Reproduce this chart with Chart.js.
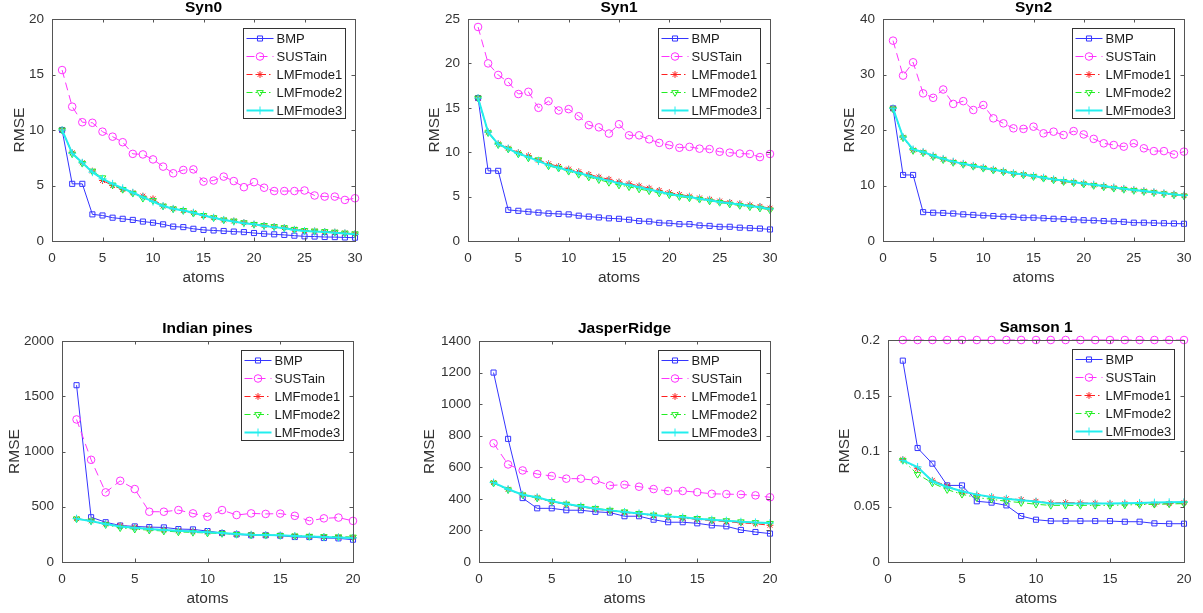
<!DOCTYPE html>
<html>
<head>
<meta charset="utf-8">
<script src="https://cdn.jsdelivr.net/npm/chart.js@4/dist/chart.umd.min.js"></script>
<style>
  html, body { margin: 0; padding: 0; background: #fff; }
  body { position: relative; width: 1203px; height: 613px; overflow: hidden; }
  canvas { position: absolute; }
</style>
</head>
<body>
<canvas id="c0"></canvas>
<canvas id="c1"></canvas>
<canvas id="c2"></canvas>
<canvas id="c3"></canvas>
<canvas id="c4"></canvas>
<canvas id="c5"></canvas>
<script>
// number of atoms (x values)
const atoms30 = [1, 2, 3, 4, 5, 6, 7, 8, 9, 10, 11, 12, 13, 14, 15, 16, 17, 18, 19, 20, 21, 22, 23, 24, 25, 26, 27, 28, 29, 30];
const atoms20 = [1, 2, 3, 4, 5, 6, 7, 8, 9, 10, 11, 12, 13, 14, 15, 16, 17, 18, 19, 20];
const seriesNames = ["BMP", "SUSTain", "LMFmode1", "LMFmode2", "LMFmode3"];

// Syn0
const syn0BMP = [10.0, 5.15, 5.15, 2.4, 2.3, 2.1, 2.0, 1.9, 1.75, 1.65, 1.5, 1.3, 1.25, 1.1, 1.0, 0.95, 0.9, 0.85, 0.8, 0.72, 0.65, 0.6, 0.55, 0.48, 0.42, 0.4, 0.36, 0.35, 0.32, 0.3];
const syn0SUSTain = [15.4, 12.1, 10.7, 10.65, 9.85, 9.4, 8.9, 7.85, 7.8, 7.35, 6.7, 6.1, 6.4, 6.45, 5.35, 5.45, 5.8, 5.4, 4.85, 5.3, 4.8, 4.5, 4.5, 4.5, 4.55, 4.1, 4.0, 4.0, 3.7, 3.85];
const syn0LMF1 = [10.0, 7.95, 7.05, 6.3, 5.45, 5.0, 4.65, 4.35, 4.05, 3.8, 3.15, 2.9, 2.75, 2.55, 2.3, 2.1, 1.9, 1.8, 1.65, 1.5, 1.4, 1.3, 1.2, 1.05, 0.95, 0.9, 0.85, 0.8, 0.72, 0.65];
const syn0LMF2 = [10.0, 7.85, 7.0, 6.3, 5.7, 5.05, 4.65, 4.3, 3.85, 3.65, 3.15, 2.9, 2.75, 2.5, 2.3, 2.1, 1.9, 1.8, 1.65, 1.5, 1.4, 1.3, 1.2, 1.05, 0.95, 0.9, 0.85, 0.8, 0.72, 0.65];
const syn0LMF3 = [10.0, 7.9, 7.05, 6.2, 5.6, 5.15, 4.75, 4.35, 3.95, 3.55, 3.15, 2.9, 2.75, 2.55, 2.3, 2.1, 1.9, 1.75, 1.6, 1.5, 1.35, 1.25, 1.15, 1.0, 0.9, 0.85, 0.8, 0.75, 0.68, 0.6];

// Syn1
const syn1BMP = [16.1, 7.9, 7.9, 3.5, 3.4, 3.3, 3.2, 3.1, 3.05, 3.0, 2.85, 2.75, 2.65, 2.55, 2.5, 2.4, 2.25, 2.2, 2.05, 2.0, 1.9, 1.9, 1.75, 1.7, 1.6, 1.6, 1.5, 1.45, 1.4, 1.3];
const syn1SUSTain = [24.1, 20.0, 18.7, 17.9, 16.55, 16.8, 15.0, 15.75, 14.7, 14.85, 14.05, 13.05, 12.8, 12.1, 13.15, 11.9, 11.9, 11.45, 11.05, 10.8, 10.5, 10.6, 10.4, 10.35, 10.05, 9.95, 9.85, 9.8, 9.45, 9.8];
const syn1LMF1 = [16.1, 12.25, 10.95, 10.45, 9.95, 9.6, 9.1, 8.7, 8.4, 8.1, 7.8, 7.5, 7.2, 6.95, 6.65, 6.45, 6.2, 5.95, 5.7, 5.45, 5.25, 5.05, 4.85, 4.7, 4.5, 4.35, 4.2, 4.05, 3.9, 3.7];
const syn1LMF2 = [16.1, 12.2, 10.85, 10.35, 9.8, 9.35, 9.15, 8.45, 8.2, 7.85, 7.5, 7.2, 6.9, 6.6, 6.3, 6.1, 5.85, 5.65, 5.4, 5.2, 5.0, 4.85, 4.7, 4.5, 4.35, 4.15, 4.0, 3.85, 3.7, 3.5];
const syn1LMF3 = [16.1, 12.25, 10.9, 10.4, 9.85, 9.45, 9.0, 8.55, 8.25, 7.95, 7.65, 7.35, 7.05, 6.8, 6.5, 6.3, 6.05, 5.8, 5.55, 5.3, 5.1, 4.95, 4.75, 4.6, 4.4, 4.25, 4.1, 3.95, 3.8, 3.6];

// Syn2
const syn2BMP = [23.9, 11.9, 11.9, 5.2, 5.1, 5.05, 4.95, 4.8, 4.7, 4.6, 4.5, 4.4, 4.35, 4.2, 4.2, 4.1, 4.0, 3.95, 3.85, 3.75, 3.7, 3.6, 3.55, 3.45, 3.3, 3.3, 3.25, 3.2, 3.15, 3.1];
const syn2SUSTain = [36.1, 29.8, 32.2, 26.6, 25.8, 27.3, 24.7, 25.2, 23.6, 24.5, 22.1, 21.2, 20.3, 20.2, 20.6, 19.4, 19.7, 19.1, 19.8, 19.2, 18.4, 17.6, 17.3, 17.0, 17.6, 16.7, 16.2, 16.2, 15.6, 16.1];
const syn2LMF1 = [23.9, 18.7, 16.4, 16.0, 15.3, 14.75, 14.25, 13.9, 13.55, 13.2, 12.85, 12.55, 12.2, 12.0, 11.7, 11.4, 11.1, 10.75, 10.6, 10.35, 10.1, 9.85, 9.6, 9.4, 9.2, 9.0, 8.8, 8.6, 8.4, 8.2];
const syn2LMF2 = [23.8, 18.6, 16.3, 15.9, 15.2, 14.65, 14.15, 13.8, 13.45, 13.1, 12.75, 12.45, 12.1, 11.9, 11.6, 11.3, 11.0, 10.7, 10.5, 10.25, 10.0, 9.75, 9.5, 9.3, 9.1, 8.9, 8.7, 8.5, 8.3, 8.1];
const syn2LMF3 = [23.9, 18.7, 16.5, 16.05, 15.35, 14.8, 14.3, 13.9, 13.55, 13.2, 12.85, 12.55, 12.2, 12.0, 11.7, 11.4, 11.1, 10.9, 10.6, 10.35, 10.15, 9.9, 9.65, 9.4, 9.2, 9.0, 8.8, 8.6, 8.4, 8.2];

// Indian pines
const indianBMP = [1600, 405, 360, 330, 322, 316, 313, 298, 295, 280, 262, 250, 242, 242, 238, 226, 226, 217, 214, 202];
const indianSUSTain = [1290, 925, 630, 735, 660, 455, 455, 470, 440, 410, 470, 425, 440, 435, 438, 418, 372, 395, 402, 372];
const indianLMF1 = [392, 375, 345, 330, 315, 300, 290, 282, 278, 272, 262, 253, 247, 244, 240, 235, 232, 229, 226, 222];
const indianLMF2 = [390, 372, 338, 310, 297, 288, 280, 272, 268, 262, 258, 250, 245, 242, 240, 236, 233, 230, 228, 226];
const indianLMF3 = [392, 370, 343, 322, 310, 298, 290, 282, 277, 270, 262, 253, 247, 244, 241, 235, 230, 226, 222, 218];

// JasperRidge
const jasperBMP = [1200, 780, 405, 340, 340, 328, 328, 318, 313, 290, 290, 268, 252, 252, 245, 232, 226, 203, 190, 180];
const jasperSUSTain = [752, 618, 580, 557, 545, 528, 528, 517, 485, 490, 477, 462, 450, 450, 442, 432, 430, 428, 422, 410];
const jasperLMF1 = [503, 461, 425, 408, 382, 365, 350, 335, 324, 314, 304, 294, 285, 278, 270, 262, 256, 248, 242, 233];
const jasperLMF2 = [500, 458, 425, 405, 383, 367, 352, 340, 328, 318, 308, 298, 290, 282, 276, 268, 262, 255, 250, 245];
const jasperLMF3 = [503, 461, 426, 410, 385, 367, 353, 338, 327, 317, 308, 298, 289, 283, 274, 268, 262, 255, 251, 247];

// Samson 1
const samsonBMP = [0.1814, 0.1027, 0.0886, 0.069, 0.069, 0.0547, 0.0535, 0.051, 0.0414, 0.0381, 0.0369, 0.0369, 0.0369, 0.0369, 0.0369, 0.0363, 0.0363, 0.0348, 0.0345, 0.0345];
const samsonSUSTain = [0.2, 0.2, 0.2, 0.2, 0.2, 0.2, 0.2, 0.2, 0.2, 0.2, 0.2, 0.2, 0.2, 0.2, 0.2, 0.2, 0.2, 0.2, 0.2, 0.2];
const samsonLMF1 = [0.0922, 0.0841, 0.0736, 0.0685, 0.0631, 0.060, 0.0586, 0.057, 0.0562, 0.0547, 0.0532, 0.0535, 0.0532, 0.0529, 0.0526, 0.0526, 0.0526, 0.0523, 0.0526, 0.0535];
const samsonLMF2 = [0.0916, 0.079, 0.0712, 0.0652, 0.061, 0.058, 0.0565, 0.0547, 0.0535, 0.052, 0.051, 0.051, 0.051, 0.051, 0.051, 0.0514, 0.0517, 0.052, 0.0523, 0.0526];
const samsonLMF3 = [0.0916, 0.0856, 0.0727, 0.0676, 0.0637, 0.0607, 0.0586, 0.057, 0.0556, 0.0544, 0.0526, 0.0526, 0.0526, 0.0526, 0.0526, 0.0529, 0.0532, 0.0535, 0.0538, 0.054];

const panels = [
  { title: "Syn0", x: atoms30, xMax: 30, yMax: 20, yStep: 5, series: [syn0BMP, syn0SUSTain, syn0LMF1, syn0LMF2, syn0LMF3] },
  { title: "Syn1", x: atoms30, xMax: 30, yMax: 25, yStep: 5, series: [syn1BMP, syn1SUSTain, syn1LMF1, syn1LMF2, syn1LMF3] },
  { title: "Syn2", x: atoms30, xMax: 30, yMax: 40, yStep: 10, series: [syn2BMP, syn2SUSTain, syn2LMF1, syn2LMF2, syn2LMF3] },
  { title: "Indian pines", x: atoms20, xMax: 20, yMax: 2000, yStep: 500, series: [indianBMP, indianSUSTain, indianLMF1, indianLMF2, indianLMF3] },
  { title: "JasperRidge", x: atoms20, xMax: 20, yMax: 1400, yStep: 200, series: [jasperBMP, jasperSUSTain, jasperLMF1, jasperLMF2, jasperLMF3] },
  { title: "Samson 1", x: atoms20, xMax: 20, yMax: 0.2, yStep: 0.05, series: [samsonBMP, samsonSUSTain, samsonLMF1, samsonLMF2, samsonLMF3] },
];

// plot box on the page: left, top, width, height, gap to RMSE label, gap to title
const boxes = [
  [52, 19, 303, 222, 34, 11],
  [468, 19, 302, 222, 35, 11],
  [883, 19, 301, 222, 35, 11],
  [62, 341, 291, 221, 49, 12.5],
  [479, 341, 291, 221, 51, 12.5],
  [888, 340, 296, 222, 45, 12.5],
];

const styles = [
  { color: "#3535ff", dash: [], point: "rect", radius: 3.6, width: 1, rot: 0 },
  { color: "#ff33ff", dash: [8, 5], point: "circle", radius: 3.8, width: 1, rot: 0 },
  { color: "#ff2020", dash: [6, 3, 1.5, 3], point: "star", radius: 3.4, width: 1, rot: 0 },
  { color: "#22ee22", dash: [6, 3, 1.5, 3], point: "triangle", radius: 3.8, width: 1, rot: 180 },
  { color: "#22eeee", dash: [], point: "cross", radius: 4, width: 2, rot: 0 },
];

const INK = "#333333";
const AXIS = "#555555";
const FONT = "'Liberation Sans', Arial, Helvetica, sans-serif";
Chart.defaults.font.family = FONT;

const fmt = (v) => String(Math.round(v * 1e6) / 1e6);

// MATLAB style box with inward ticks on all four sides
const matlabAxes = {
  id: "matlabAxes",
  afterDatasetsDraw(chart) {
    const { ctx, chartArea: a, scales } = chart;
    const tl = 3.5;
    ctx.save();
    ctx.strokeStyle = AXIS;
    ctx.lineWidth = 1;
    ctx.strokeRect(Math.round(a.left) + 0.5, Math.round(a.top) + 0.5, Math.round(a.right - a.left), Math.round(a.bottom - a.top));
    ctx.beginPath();
    for (const t of scales.x.ticks) {
      const px = Math.round(scales.x.getPixelForValue(t.value)) + 0.5;
      ctx.moveTo(px, a.bottom); ctx.lineTo(px, a.bottom - tl);
      ctx.moveTo(px, a.top); ctx.lineTo(px, a.top + tl);
    }
    for (const t of scales.y.ticks) {
      const py = Math.round(scales.y.getPixelForValue(t.value)) + 0.5;
      ctx.moveTo(a.left, py); ctx.lineTo(a.left + tl, py);
      ctx.moveTo(a.right, py); ctx.lineTo(a.right - tl, py);
    }
    ctx.stroke();
    ctx.restore();
  },
};

// legend box inside the plot, top right, line sample with marker
const matlabLegend = {
  id: "matlabLegend",
  afterDraw(chart) {
    const { ctx, chartArea: a } = chart;
    const w = 102, rowH = 18, h = 90;
    const x0 = Math.round(a.right - 10 - w) + 0.5, y0 = Math.round(a.top + 9) + 0.5;
    ctx.save();
    ctx.fillStyle = "#fff";
    ctx.fillRect(x0, y0, w, h);
    ctx.strokeStyle = INK;
    ctx.lineWidth = 1;
    ctx.strokeRect(x0, y0, w, h);
    chart.data.datasets.forEach((ds, i) => {
      const cy = y0 + 10 + i * rowH;
      ctx.save();
      ctx.strokeStyle = ds.borderColor;
      ctx.lineWidth = ds.borderWidth;
      ctx.setLineDash(ds.borderDash || []);
      ctx.beginPath();
      ctx.moveTo(x0 + 3, cy);
      ctx.lineTo(x0 + 30, cy);
      ctx.stroke();
      ctx.setLineDash([]);
      ctx.lineWidth = 1;
      ctx.fillStyle = "rgba(0,0,0,0)";
      Chart.helpers.drawPoint(ctx, { pointStyle: ds.pointStyle, radius: ds.pointRadius, rotation: ds.pointRotation, borderWidth: 1 }, x0 + 16.5, cy);
      ctx.restore();
      ctx.fillStyle = "#1a1a1a";
      ctx.font = "13px " + FONT;
      ctx.textBaseline = "middle";
      ctx.textAlign = "left";
      ctx.fillText(ds.label, x0 + 33, cy + 0.5);
    });
    ctx.restore();
  },
};

const T = 30, R = 14, B = 48;

panels.forEach((p, n) => {
  const [left, top, w, h, yGap, tGap] = boxes[n];
  const L = yGap + 12;
  const cv = document.getElementById("c" + n);
  cv.width = L + w + R;
  cv.height = T + h + B;
  cv.style.left = left - L + "px";
  cv.style.top = top - T + "px";

  const datasets = seriesNames.map((name, i) => {
    const s = styles[i];
    return {
      label: name,
      data: p.x.map((a, k) => ({ x: a, y: p.series[i][k] })),
      borderColor: s.color,
      borderWidth: s.width,
      borderDash: s.dash,
      pointStyle: s.point,
      pointRadius: s.radius,
      pointRotation: s.rot,
      pointBorderColor: s.color,
      pointBackgroundColor: "rgba(0,0,0,0)",
      pointBorderWidth: 1,
      tension: 0,
      fill: false,
      clip: false,
      order: 4 - i,
    };
  });

  const titleLine = 15.5 * 1.2;
  const titlePadBottom = tGap - titleLine / 2;

  new Chart(cv, {
    type: "line",
    data: { datasets },
    options: {
      responsive: false,
      animation: false,
      events: [],
      layout: { padding: { top: T - titleLine - titlePadBottom, right: R, left: 0, bottom: 0 } },
      plugins: {
        legend: { display: false },
        tooltip: { enabled: false },
        title: {
          display: true, text: p.title, fullSize: false, color: "#000",
          font: { size: 15.5, weight: "bold", lineHeight: 1.2 },
          padding: { top: 0, bottom: titlePadBottom },
        },
      },
      scales: {
        x: {
          type: "linear", min: 0, max: p.xMax,
          grid: { display: false, drawTicks: false },
          border: { display: false },
          ticks: { stepSize: 5, padding: 9, color: INK, font: { size: 13.5 }, maxRotation: 0, autoSkip: false, callback: fmt },
          title: { display: true, text: "atoms", color: INK, font: { size: 15.5, lineHeight: 1.2 }, padding: { top: 0, bottom: 1.7 } },
          afterFit(s) { s.height = B; s.paddingLeft = 0; s.paddingRight = 0; },
        },
        y: {
          type: "linear", min: 0, max: p.yMax,
          grid: { display: false, drawTicks: false },
          border: { display: false },
          ticks: { stepSize: p.yStep, padding: 8, color: INK, font: { size: 13.5 }, autoSkip: false, callback: fmt },
          title: { display: true, text: "RMSE", color: INK, font: { size: 15.5, lineHeight: 1.2 }, padding: { top: 4.2, bottom: 0 } },
          afterFit(s) { s.width = L; s.paddingTop = 0; s.paddingBottom = 0; },
        },
      },
    },
    plugins: [matlabAxes, matlabLegend],
  });
});
</script>
</body>
</html>
